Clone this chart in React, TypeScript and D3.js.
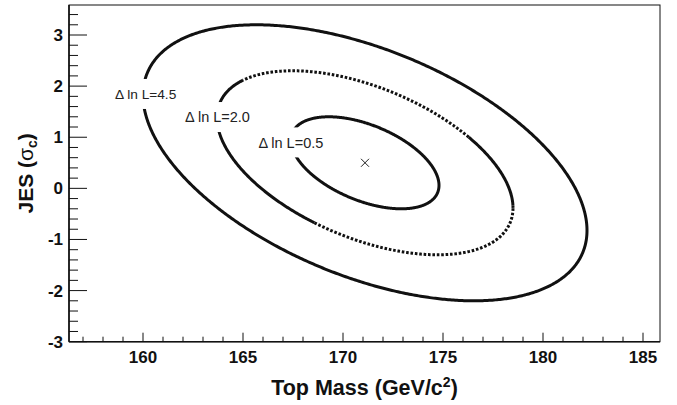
import React from "react";
import * as d3 from "d3";

const W = 677;
const H = 405;

// Axis ranges and tick labels
const massDomain = [156.3, 185.85];
const jesDomain = [-3, 3.587];
const massTicks = [160, 165, 170, 175, 180, 185];
const jesTicks = [-3, -2, -1, 0, 1, 2, 3];

// Best fit and Gaussian widths of the (Top Mass, JES) likelihood
const bestFitMass = 171.1;
const bestFitJes = 0.5;
const sigmaMass = 3.7;
const sigmaJes = 0.9;
const correlation = -0.49;

// Contour levels in -ln L and where their labels sit
const levels = [0.5, 2.0, 4.5];
const labelMass = [165.77, 162.1, 158.6];
const labelJes = [0.797, 1.293, 1.75];

const FONT = "'Liberation Sans', Arial, Helvetica, sans-serif";
const labelSizes = [14.5, 14.5, 13.7];
const dottedLevel = 2.0;
// arcs (screen angle around the best fit, degrees) drawn dotted on that contour
const dottedArcs: [number, number][] = [
  [-146, -14],
  [16, 130],
];

const plot = { left: 69, right: 660, top: 5, bottom: 341.7 };

export default function App() {
  const x = d3.scaleLinear().domain(massDomain).range([plot.left, plot.right]);
  const y = d3.scaleLinear().domain(jesDomain).range([plot.bottom, plot.top]);

  const minorMass = d3.range(157, 186).filter((v) => v % 5 !== 0);
  const minorJes = d3
    .range(-15, 18)
    .map((i) => i / 5)
    .filter((v) => Math.abs(v - Math.round(v)) > 1e-6);

  const line = d3
    .line<[number, number]>()
    .x((d) => d[0])
    .y((d) => d[1]);

  const cx = x(bestFitMass);
  const cy = y(bestFitJes);

  // Contour of the 2D Gaussian likelihood at a given Delta ln L
  const contour = (dll: number): [number, number][] => {
    const k = Math.sqrt(2 * dll);
    const s = Math.sqrt(1 - correlation * correlation);
    return d3.range(0, 721).map((i) => {
      const t = (i / 720) * Math.PI * 2;
      const m = bestFitMass + k * sigmaMass * Math.cos(t);
      const j = bestFitJes + k * sigmaJes * (correlation * Math.cos(t) + s * Math.sin(t));
      return [x(m), y(j)];
    });
  };

  const isDotted = (p: [number, number], q: [number, number]) => {
    const a = (Math.atan2((p[1] + q[1]) / 2 - cy, (p[0] + q[0]) / 2 - cx) * 180) / Math.PI;
    return dottedArcs.some(([lo, hi]) => a >= lo && a <= hi);
  };

  // Split a contour into solid and dotted runs
  const runs = (pts: [number, number][]) => {
    const out: { dotted: boolean; pts: [number, number][] }[] = [];
    for (let i = 1; i < pts.length; i++) {
      const dotted = isDotted(pts[i - 1], pts[i]);
      const last = out[out.length - 1];
      if (last && last.dotted === dotted) last.pts.push(pts[i]);
      else out.push({ dotted, pts: [pts[i - 1], pts[i]] });
    }
    return out;
  };

  const labels = levels.map((lv, i) => {
    const fs = labelSizes[i];
    const lx = x(labelMass[i]);
    const ly = y(labelJes[i]);
    const w = fs * 4.55;
    return { text: `\u0394 ln L=${lv.toFixed(1)}`, lx, ly, fs, w };
  });

  return (
    <svg
      width={W}
      height={H}
      style={{ position: "absolute", left: 0, top: 0, background: "#fff" }}
      fontFamily={FONT}
    >
      <defs>
        <mask id="labelGaps">
          <rect x={0} y={0} width={W} height={H} fill="#fff" />
          {labels.map((l, i) => (
            <rect
              key={i}
              x={l.lx - 3}
              y={l.ly - l.fs * 0.36 - 15}
              width={l.w + 6}
              height={30}
              fill="#000"
            />
          ))}
        </mask>
      </defs>

      {/* frame */}
      <rect
        x={plot.left}
        y={plot.top}
        width={plot.right - plot.left}
        height={plot.bottom - plot.top}
        fill="none"
        stroke="#111"
        strokeWidth={1}
      />
      <line x1={plot.left} x2={plot.left} y1={plot.top} y2={plot.bottom} stroke="#111" strokeWidth={1.6} />
      <line x1={plot.left} x2={plot.right} y1={plot.bottom} y2={plot.bottom} stroke="#111" strokeWidth={1.6} />

      {/* y axis ticks */}
      {jesTicks.map((v) => (
        <g key={`yt${v}`}>
          <line x1={plot.left} x2={plot.left + 18} y1={y(v)} y2={y(v)} stroke="#111" strokeWidth={1} />
          <text x={63} y={y(v) + 6} textAnchor="end" fontSize={17} fontWeight="bold" fill="#111">
            {v}
          </text>
        </g>
      ))}
      {minorJes.map((v) => (
        <line key={`ym${v}`} x1={plot.left} x2={plot.left + 9} y1={y(v)} y2={y(v)} stroke="#111" strokeWidth={1} />
      ))}

      {/* x axis ticks */}
      {massTicks.map((v) => (
        <g key={`xt${v}`}>
          <line x1={x(v)} x2={x(v)} y1={plot.bottom} y2={plot.bottom - 9} stroke="#111" strokeWidth={1} />
          <text x={x(v)} y={363} textAnchor="middle" fontSize={17} fontWeight="bold" fill="#111">
            {v}
          </text>
        </g>
      ))}
      {minorMass.map((v) => (
        <line key={`xm${v}`} x1={x(v)} x2={x(v)} y1={plot.bottom} y2={plot.bottom - 5} stroke="#111" strokeWidth={1} />
      ))}

      {/* axis titles */}
      <text
        x={(plot.left + plot.right) / 2}
        y={395}
        textAnchor="middle"
        fontSize={21.5}
        fontWeight="bold"
        fill="#111"
      >
        Top Mass (GeV/c
        <tspan dy={-8} fontSize={14}>
          2
        </tspan>
        <tspan dy={8}>)</tspan>
      </text>
      <text
        transform={`translate(33,${(plot.top + plot.bottom) / 2}) rotate(-90)`}
        textAnchor="middle"
        fontSize={21}
        fontWeight="bold"
        fill="#111"
      >
        JES (<tspan fontWeight="normal">σ</tspan>
        <tspan dy={4} fontSize={14}>
          c
        </tspan>
        <tspan dy={-4}>)</tspan>
      </text>

      {/* likelihood contours */}
      <g mask="url(#labelGaps)" fill="none" stroke="#111" strokeWidth={3}>
        {levels.map((lv) => {
          const pts = contour(lv);
          if (lv !== dottedLevel) return <path key={lv} d={line(pts) ?? ""} />;
          return runs(pts).map((r, i) => (
            <path
              key={`${lv}-${i}`}
              d={line(r.pts) ?? ""}
              strokeDasharray={r.dotted ? "2.6 1.8" : undefined}
            />
          ));
        })}
      </g>

      {/* contour labels */}
      {labels.map((l, i) => (
        <text key={i} x={l.lx} y={l.ly} fontSize={l.fs} fill="#222">
          {l.text}
        </text>
      ))}

      {/* best fit marker */}
      <g stroke="#222" strokeWidth={1}>
        <line x1={cx - 4} x2={cx + 4} y1={cy - 4} y2={cy + 4} />
        <line x1={cx - 4} x2={cx + 4} y1={cy + 4} y2={cy - 4} />
      </g>
    </svg>
  );
}
